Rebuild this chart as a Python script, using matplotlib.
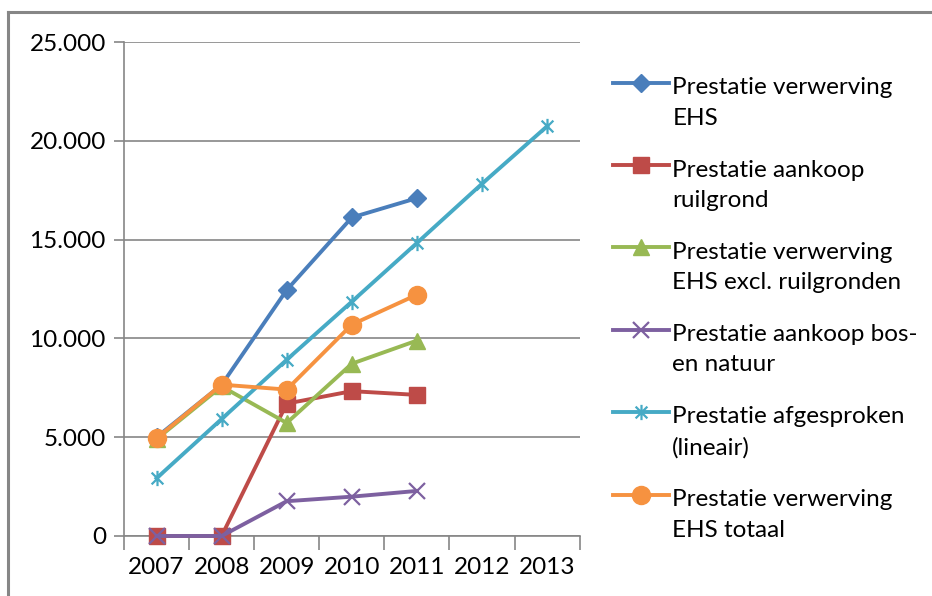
import matplotlib.pyplot as plt
from matplotlib.path import Path
from matplotlib.lines import Line2D
from matplotlib.legend_handler import HandlerLine2D

# Data
years = ["2007", "2008", "2009", "2010", "2011", "2012", "2013"]
ehs = [5000, 7650, 12450, 16120, 17100]
ruilgrond = [0, 0, 6700, 7330, 7140]
ehs_excl = [4900, 7570, 5720, 8720, 9890]
bos_natuur = [0, 0, 1760, 1990, 2280]
afgesproken = [2920, 5920, 8920, 11860, 14830, 17830, 20740]
ehs_totaal = [4950, 7660, 7410, 10700, 12210]

labels = ["Prestatie verwerving\nEHS",
          "Prestatie aankoop\nruilgrond",
          "Prestatie verwerving\nEHS excl. ruilgronden",
          "Prestatie aankoop bos-\nen natuur",
          "Prestatie afgesproken\n(lineair)",
          "Prestatie verwerving\nEHS totaal"]

plt.rcParams['font.family'] = ['Lato', 'DejaVu Sans']


class TopLineHandler(HandlerLine2D):
    # put the legend handle level with the first text line, like Excel
    def create_artists(self, legend, orig_handle, xdescent, ydescent,
                       width, height, fontsize, trans):
        artists = super().create_artists(legend, orig_handle, xdescent, ydescent,
                                         width, height, fontsize, trans)
        for a in artists:
            a.set_ydata([y + fontsize * 0.82 for y in a.get_ydata()])
        return artists


# Excel style star marker (x with vertical bar)
star = Path([(-1, -1), (1, 1), (-1, 1), (1, -1), (0, -1.3), (0, 1.3)],
            [Path.MOVETO, Path.LINETO, Path.MOVETO, Path.LINETO, Path.MOVETO, Path.LINETO])

fig = plt.figure(figsize=(9.32, 5.96), dpi=100)
ax = fig.add_axes([0.133, 0.1007, 0.489, 0.8288])

x5 = range(len(ehs))
x7 = range(len(afgesproken))
lw = 2.8
ax.plot(x5, ehs, color="#4A7EBB", lw=lw, marker="D", ms=9, label=labels[0], zorder=3, clip_on=False)
ax.plot(x5, ruilgrond, color="#BE4B48", lw=lw, marker="s", ms=12, label=labels[1], zorder=3, clip_on=False)
ax.plot(x5, ehs_excl, color="#98B954", lw=lw, marker="^", ms=12, label=labels[2], zorder=3, clip_on=False)
ax.plot(x5, bos_natuur, color="#7D60A0", lw=lw, marker="x", ms=11, mew=1.6, label=labels[3], zorder=4, clip_on=False)
ax.plot(x7, afgesproken, color="#46AAC5", lw=lw, marker=star, ms=11, mew=1.6, label=labels[4], zorder=3, clip_on=False)
ax.plot(x5, ehs_totaal, color="#F69240", lw=lw, marker="o", ms=13, label=labels[5], zorder=3, clip_on=False)

ax.set_xlim(-0.5, 6.5)
ax.set_ylim(0, 25000)
ax.set_yticks(range(0, 25001, 5000))
ax.set_yticklabels(["0", "5.000", "10.000", "15.000", "20.000", "25.000"])
ax.yaxis.grid(True, color="#868686", lw=1.2)
ax.set_axisbelow(True)

# category ticks between years, labels centered
ax.set_xticks([i - 0.5 for i in range(8)], minor=False)
ax.set_xticklabels([])
ax.set_xticks(range(7), minor=True)
ax.set_xticklabels(years, minor=True)
ax.tick_params(axis="x", which="major", direction="out", length=10, color="#868686", width=1.2)
ax.tick_params(axis="x", which="minor", length=0, pad=15, labelsize=17.5)
ax.tick_params(axis="y", direction="out", length=7, color="#868686", width=1.2, pad=6, labelsize=17.5)

for s in ["top", "right"]:
    ax.spines[s].set_visible(False)
for s in ["left", "bottom"]:
    ax.spines[s].set_color("#868686")
    ax.spines[s].set_linewidth(1.2)

leg = fig.legend(loc="upper left", bbox_to_anchor=(0.634, 0.907), frameon=False,
                 fontsize=17.5, handlelength=2.3, handletextpad=0.15, labelspacing=1.27,
                 handler_map={Line2D: TopLineHandler()})
for t in leg.get_texts():
    t.set_linespacing(1.55)

# chart frame (top and left edges)
fig.add_artist(Line2D([8 / 932, 1], [1 - 12 / 596, 1 - 12 / 596], transform=fig.transFigure, color="#868686", lw=2.2))
fig.add_artist(Line2D([8 / 932, 8 / 932], [0, 1 - 12 / 596], transform=fig.transFigure, color="#868686", lw=2.2))

plt.savefig("out.png", dpi=100)
